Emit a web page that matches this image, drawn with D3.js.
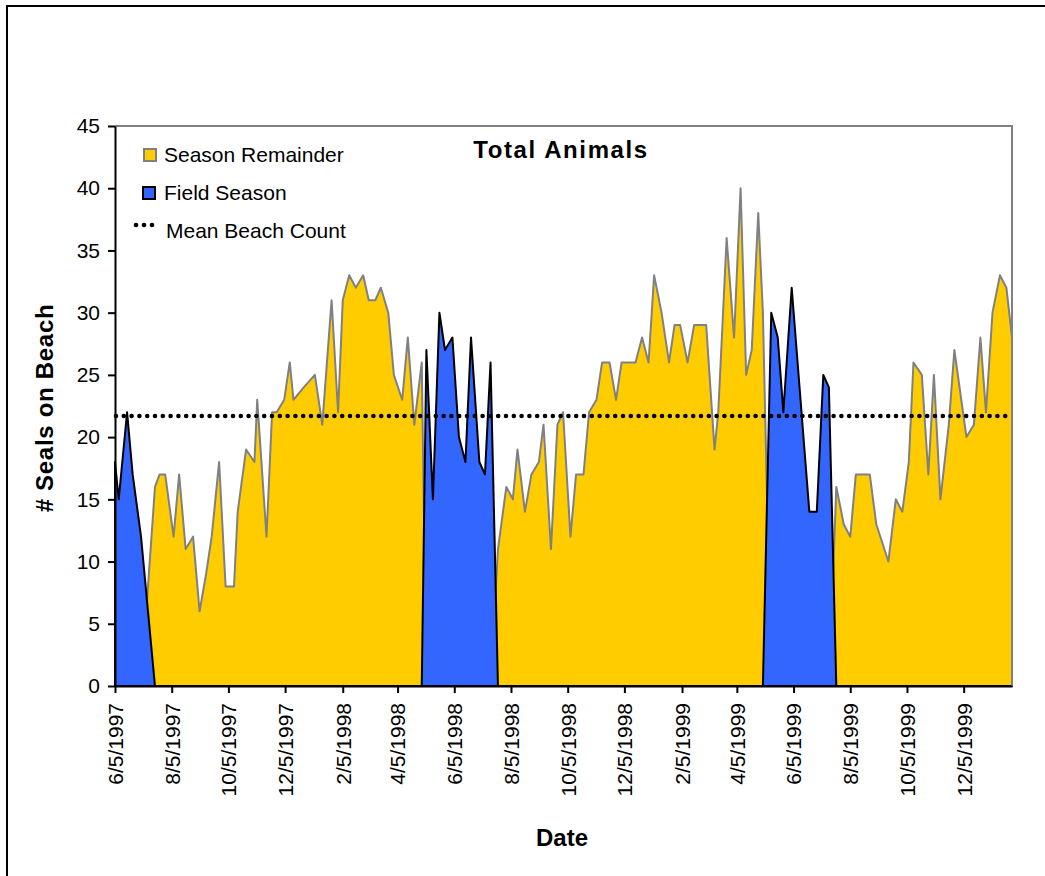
<!DOCTYPE html>
<html>
<head>
<meta charset="utf-8">
<script src="https://cdn.jsdelivr.net/npm/d3@7"></script>
<style>
  body { margin: 0; background: #fff; }
  svg { display: block; font-family: "Liberation Sans", Arial, sans-serif; }
</style>
</head>
<body>
<svg id="chart" width="1045" height="876"></svg>
<script>
// Survey dates and beach counts.
const dates = [
    "6/5/1997", "6/9/1997", "6/18/1997", "6/24/1997", "7/3/1997", "7/18/1997", "7/23/1997", "7/29/1997",
    "8/7/1997", "8/13/1997", "8/20/1997", "8/28/1997", "9/4/1997", "9/11/1997", "9/17/1997", "9/25/1997",
    "10/2/1997", "10/11/1997", "10/15/1997", "10/24/1997", "11/2/1997", "11/5/1997", "11/15/1997", "11/21/1997",
    "11/26/1997", "12/4/1997", "12/10/1997", "12/14/1997", "12/25/1997",
    "1/6/1998", "1/14/1998", "1/24/1998", "1/31/1998", "2/5/1998", "2/12/1998", "2/19/1998", "2/27/1998",
    "3/5/1998", "3/12/1998", "3/18/1998", "3/26/1998", "4/1/1998", "4/10/1998", "4/16/1998", "4/23/1998",
    "5/1/1998", "5/6/1998", "5/13/1998", "5/20/1998", "5/26/1998", "6/3/1998", "6/10/1998", "6/17/1998",
    "6/23/1998", "7/2/1998", "7/8/1998", "7/14/1998", "7/22/1998", "7/31/1998", "8/7/1998", "8/12/1998",
    "8/20/1998", "8/27/1998", "9/4/1998", "9/9/1998", "9/17/1998", "9/24/1998", "9/30/1998", "10/8/1998",
    "10/14/1998", "10/22/1998", "10/28/1998", "11/5/1998", "11/11/1998", "11/19/1998", "11/26/1998", "12/2/1998",
    "12/10/1998", "12/17/1998", "12/24/1998", "12/31/1998",
    "1/6/1999", "1/14/1999", "1/22/1999", "1/28/1999", "2/3/1999", "2/11/1999", "2/18/1999", "2/25/1999",
    "3/3/1999", "3/12/1999", "3/16/1999", "3/25/1999", "4/2/1999", "4/9/1999", "4/15/1999", "4/21/1999",
    "4/28/1999", "5/3/1999", "5/12/1999", "5/19/1999", "5/25/1999", "6/3/1999", "6/22/1999", "6/30/1999",
    "7/7/1999", "7/13/1999", "7/21/1999", "7/29/1999", "8/5/1999", "8/11/1999", "8/18/1999", "8/26/1999",
    "9/2/1999", "9/15/1999", "9/23/1999", "9/30/1999", "10/7/1999", "10/12/1999", "10/21/1999", "10/28/1999",
    "11/3/1999", "11/10/1999", "11/19/1999", "11/25/1999", "12/8/1999", "12/16/1999", "12/23/1999", "12/29/1999",
    "1/5/2000", "1/13/2000", "1/20/2000", "1/26/2000"
];
const counts = [
    18, 15, 22, 17, 12, 16, 17, 17,
    12, 17, 11, 12, 6, 9, 12, 18,
    8, 8, 14, 19, 18, 23, 12, 22,
    22, 23, 26, 23, 24,
    25, 21, 31, 22, 31, 33, 32, 33,
    31, 31, 32, 30, 25, 23, 28, 21,
    26, 27, 15, 30, 27, 28, 20, 18,
    28, 18, 17, 26, 11, 16, 15, 19,
    14, 17, 18, 21, 11, 21, 22, 12,
    17, 17, 22, 23, 26, 26, 23, 26,
    26, 26, 28, 26,
    33, 30, 26, 29, 29, 26, 29, 29,
    29, 19, 22, 36, 28, 40, 25, 27,
    38, 30, 30, 28, 22, 32, 14, 14,
    25, 24, 16, 13, 12, 17, 17, 17,
    13, 10, 15, 14, 18, 26, 25, 17,
    25, 15, 21, 27, 20, 21, 28, 22,
    30, 33, 32, 28
];
// Field season periods (first and last survey of each).
const fieldSeasons = [
    ["6/5/1997", "7/3/1997"],
    ["5/6/1998", "7/14/1998"],
    ["5/12/1999", "7/13/1999"]
];
const meanCount = 21.7;
const xTickLabels = [
    "6/5/1997", "8/5/1997", "10/5/1997", "12/5/1997", "2/5/1998", "4/5/1998", "6/5/1998", "8/5/1998",
    "10/5/1998", "12/5/1998", "2/5/1999", "4/5/1999", "6/5/1999", "8/5/1999", "10/5/1999", "12/5/1999"
];
const yTicks = [0, 5, 10, 15, 20, 25, 30, 35, 40, 45];

const parse = d3.timeParse("%m/%d/%Y");
const plotLeft = 115, plotRight = 1012, plotTop = 126, plotBottom = 686;

const seasons = fieldSeasons.map(s => [parse(s[0]), parse(s[1])]);
const rows = dates.map((s, i) => {
    const date = parse(s);
    const inField = seasons.some(p => date >= p[0] && date <= p[1]);
    return { date: date, count: counts[i], field: inField };
});
// Each series is zero outside its own period, as in the spreadsheet.
const remainder = rows.map(r => ({ date: r.date, value: r.field ? 0 : r.count }));
const fieldSeries = rows.map(r => ({ date: r.date, value: r.field ? r.count : 0 }));

const x = d3.scaleTime()
    .domain([rows[0].date, rows[rows.length - 1].date])
    .range([plotLeft, plotRight]);
const y = d3.scaleLinear().domain([0, 45]).range([plotBottom, plotTop]);

const svg = d3.select("#chart");

// outer frame (cut off at right and bottom like the picture)
svg.append("rect")
    .attr("x", 7).attr("y", 6)
    .attr("width", 1100).attr("height", 1000)
    .attr("fill", "none").attr("stroke", "#000").attr("stroke-width", 2);

const area = d3.area()
    .x(d => x(d.date))
    .y0(y(0))
    .y1(d => y(d.value));

svg.append("path")
    .datum(remainder)
    .attr("d", area)
    .attr("fill", "#FFCC00")
    .attr("stroke", "#808080")
    .attr("stroke-width", 2)
    .attr("stroke-linejoin", "round");

svg.append("path")
    .datum(fieldSeries)
    .attr("d", area)
    .attr("fill", "#3366FF")
    .attr("stroke", "#000")
    .attr("stroke-width", 2)
    .attr("stroke-linejoin", "round");

// plot area border, top and right
svg.append("path")
    .attr("d", `M${plotLeft},${plotTop}H${plotRight}V${plotBottom}`)
    .attr("fill", "none").attr("stroke", "#808080").attr("stroke-width", 2);

// mean beach count, dotted
svg.append("line")
    .attr("x1", x(rows[0].date) + 1).attr("x2", x(rows[rows.length - 1].date))
    .attr("y1", y(meanCount)).attr("y2", y(meanCount))
    .attr("stroke", "#000").attr("stroke-width", 4.6)
    .attr("stroke-linecap", "round")
    .attr("stroke-dasharray", "0 7.8");

// axes
const yAxis = svg.append("g")
    .attr("transform", `translate(${plotLeft},0)`)
    .call(d3.axisLeft(y).tickValues(yTicks).tickSize(7).tickSizeOuter(0).tickPadding(8));

const xAxis = svg.append("g")
    .attr("transform", `translate(0,${plotBottom})`)
    .call(d3.axisBottom(x)
        .tickValues(xTickLabels.map(parse))
        .tickFormat((d, i) => xTickLabels[i])
        .tickSize(7).tickSizeOuter(0));

[yAxis, xAxis].forEach(g => {
    g.select(".domain").attr("stroke", "#000").attr("stroke-width", 2);
    g.selectAll(".tick line").attr("stroke", "#000").attr("stroke-width", 2);
    g.selectAll(".tick text")
        .attr("fill", "#000")
        .style("font-size", "21px")
        .style("font-family", "'Liberation Sans', Arial, sans-serif");
});

xAxis.selectAll(".tick text")
    .attr("transform", "rotate(-90)")
    .attr("text-anchor", "end")
    .attr("x", -17)
    .attr("y", 0)
    .attr("dy", "0.35em");

// titles
svg.append("text")
    .attr("x", 561).attr("y", 158)
    .attr("text-anchor", "middle")
    .attr("font-weight", "bold").attr("font-size", 24)
    .attr("letter-spacing", 1.6)
    .text("Total Animals");

svg.append("text")
    .attr("x", 562).attr("y", 846)
    .attr("text-anchor", "middle")
    .attr("font-weight", "bold").attr("font-size", 24)
    .text("Date");

svg.append("text")
    .attr("transform", "translate(53,408) rotate(-90)")
    .attr("text-anchor", "middle")
    .attr("font-weight", "bold").attr("font-size", 24)
    .attr("letter-spacing", 0.7)
    .text("# Seals on Beach");

// legend
const legend = svg.append("g");
legend.append("rect")
    .attr("x", 144).attr("y", 149).attr("width", 12).attr("height", 12)
    .attr("fill", "#FFCC00").attr("stroke", "#808080").attr("stroke-width", 2);
legend.append("rect")
    .attr("x", 143).attr("y", 187).attr("width", 12).attr("height", 12)
    .attr("fill", "#3366FF").attr("stroke", "#000").attr("stroke-width", 2);
legend.selectAll("circle")
    .data([136, 144, 152])
    .join("circle")
    .attr("cx", d => d).attr("cy", 225).attr("r", 2.3)
    .attr("fill", "#000");

const legendItems = [
    { label: "Season Remainder", x: 164, y: 162 },
    { label: "Field Season", x: 164, y: 200 },
    { label: "Mean Beach Count", x: 166, y: 238 }
];
legend.selectAll("text")
    .data(legendItems)
    .join("text")
    .attr("x", d => d.x).attr("y", d => d.y)
    .attr("font-size", 21)
    .text(d => d.label);
</script>
</body>
</html>
